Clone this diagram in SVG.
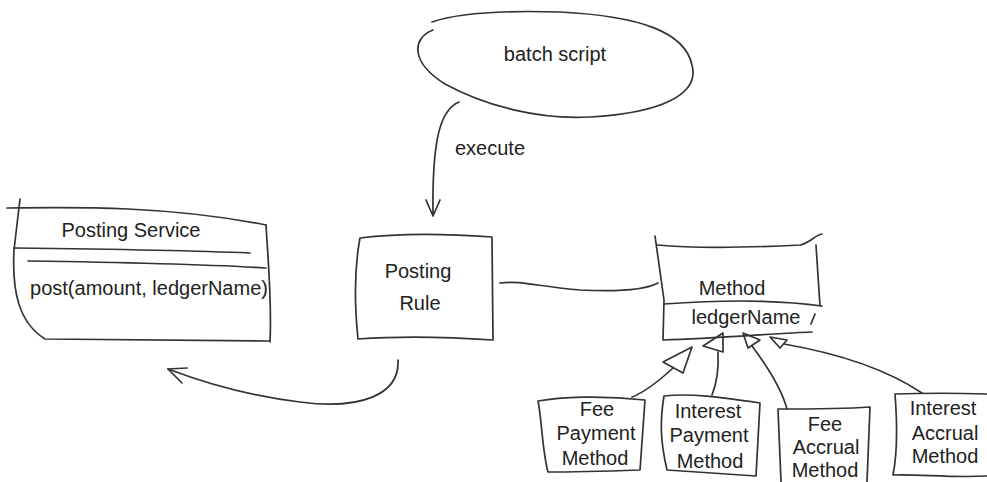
<svg xmlns="http://www.w3.org/2000/svg" width="987" height="482" viewBox="0 0 987 482">
<defs>
<style>
.s{fill:none;stroke:#333;stroke-width:1.7;stroke-linecap:round;stroke-linejoin:round}
.t{font-family:"Liberation Sans",Arial,sans-serif;font-size:20px;fill:#222;text-anchor:middle}
</style>
</defs>
<rect width="987" height="482" fill="#fff"/>
<g id="batch-script">
<path class="s" d="M433,30 C412,38 410,62 445,84 C485,106 540,120 590,117 C660,113 700,95 692,65 C685,32 640,16 560,12 C495,10 455,14 432,22"/>
<text class="t" x="555" y="61" font-size="21">batch script</text>
</g>
<g id="posting-service">
<path class="s" d="M7,208 C80,207 170,206 266,225"/>
<path class="s" d="M20,199 L14,250 C12,290 18,322 45,339 L269,341"/>
<path class="s" d="M266,225 C268,260 272,300 270,342"/>
<path class="s" d="M14,248 C100,249 180,250 250,253"/>
<path class="s" d="M28,261 C100,262 200,264 266,268"/>
<text class="t" x="131" y="237" font-size="19">Posting Service</text>
<text class="t" x="149" y="295" font-size="20">post(amount, ledgerName)</text>
</g>
<g id="posting-rule">
<path class="s" d="M360,238 C400,233 450,234 492,237 L493,340 C450,337 400,336 358,339 C355,310 354,270 360,238 Z"/>
<text class="t" x="418" y="278" font-size="18">Posting</text>
<text class="t" x="420" y="310" font-size="19">Rule</text>
</g>
<g id="method">
<path class="s" d="M657,245 C700,249 760,247 800,245 C810,243 815,235 822,234"/>
<path class="s" d="M655,236 L664,300 L663,340 C720,338 780,333 812,332"/>
<path class="s" d="M816,245 L820,306"/>
<path class="s" d="M664,304 C720,300 780,300 822,306"/>
<path class="s" d="M815,314 L811,324"/>
<text class="t" x="732" y="295" font-size="21">Method</text>
<text class="t" x="746" y="324" font-size="21">ledgerName</text>
</g>
<g id="fee-payment-method">
<path class="s" d="M538,401 C560,397 600,395 645,400 L640,470 C610,471 575,472 548,472 C542,450 542,420 538,401 Z"/>
<text class="t" x="597" y="416">Fee</text>
<text class="t" x="596" y="440">Payment</text>
<text class="t" x="595" y="465">Method</text>
</g>
<g id="interest-payment-method">
<path class="s" d="M664,396 C690,393 720,397 760,403 L756,476 C730,474 700,472 667,470 C660,440 660,420 664,396 Z"/>
<text class="t" x="708" y="418" font-size="21">Interest</text>
<text class="t" x="709" y="442">Payment</text>
<text class="t" x="710" y="468">Method</text>
</g>
<g id="fee-accrual-method">
<path class="s" d="M778,409 C810,409 840,409 870,407 L867,482 M781,482 L778,409"/>
<text class="t" x="825" y="431">Fee</text>
<text class="t" x="826" y="454">Accrual</text>
<text class="t" x="825" y="477" font-size="19">Method</text>
</g>
<g id="interest-accrual-method">
<path class="s" d="M895,394 C925,393 955,393 987,394 M895,394 C897,420 898,450 893,475 C920,474 950,478 987,476"/>
<text class="t" x="943" y="415" font-size="21">Interest</text>
<text class="t" x="945" y="440" font-size="21">Accrual</text>
<text class="t" x="945" y="463" font-size="21">Method</text>
</g>
<g id="connectors">
<path class="s" d="M459,102 C440,110 432,140 433,215"/>
<path class="s" d="M426,200 L433,216 L440,200"/>
<text class="t" x="455" y="155" font-size="21" style="text-anchor:start">execute</text>
<path class="s" d="M500,283 C520,280 540,287 580,290 C620,292 645,290 658,283"/>
<path class="s" d="M398,360 C400,395 360,410 300,402 C250,396 210,385 168,369"/>
<path class="s" d="M187,368 L168,369 L182,383"/>
<polygon class="s" points="692,347 663,362 683,373"/>
<path class="s" d="M673,368 C660,380 645,392 632,397"/>
<polygon class="s" points="723,333 703,346 723,352"/>
<path class="s" d="M718,352 C719,370 716,385 712,395"/>
<polygon class="s" points="743,333 760,340 748,348"/>
<path class="s" d="M752,346 C770,370 782,390 787,409"/>
<polygon class="s" points="770,337 787,340 780,348"/>
<path class="s" d="M784,344 C830,352 880,365 922,393"/>
</g>
</svg>
